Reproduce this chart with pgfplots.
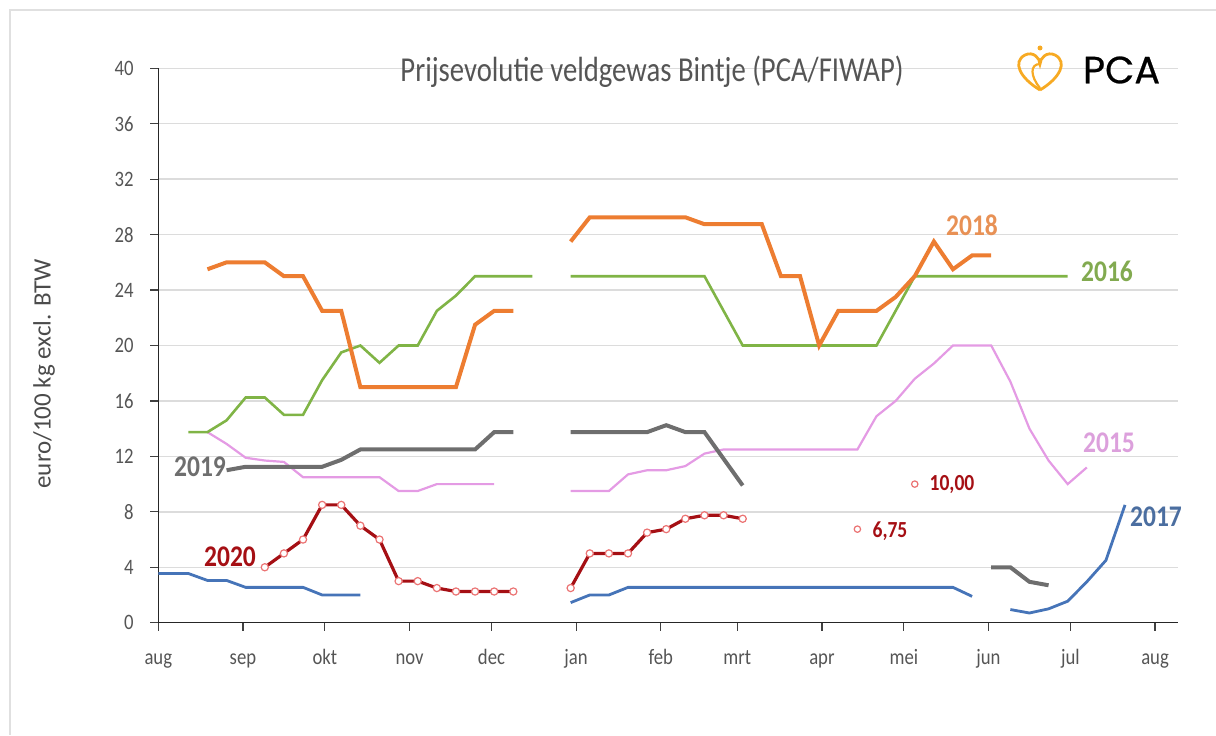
\documentclass[border=0pt]{standalone}
\usepackage{fontspec}
\setmainfont{Carlito}
\newfontfamily\condfont{Carlito}[FakeStretch=0.85]
\newfontfamily\titlefont{Carlito}[FakeStretch=0.82]
\newfontfamily\logofont{Poppins}[FakeBold=0.6]
\usepackage{pgfplots}
\pgfplotsset{compat=1.18}

\definecolor{c2015}{RGB}{228,155,228}
\definecolor{c2016}{RGB}{128,180,70}
\definecolor{c2017}{RGB}{70,116,184}
\definecolor{c2018}{RGB}{237,125,49}
\definecolor{c2019}{RGB}{110,110,110}
\definecolor{c2020}{RGB}{165,15,20}
\definecolor{mk2020}{RGB}{235,115,115}
\definecolor{l2015}{RGB}{220,160,220}
\definecolor{l2016}{RGB}{130,170,80}
\definecolor{l2017}{RGB}{75,110,160}
\definecolor{l2018}{RGB}{232,145,85}
\definecolor{gridgray}{RGB}{220,220,220}
\definecolor{ticktext}{RGB}{85,85,85}
\definecolor{logoorange}{RGB}{247,170,35}

\begin{document}
\begin{tikzpicture}
\useasboundingbox (0,0) rectangle (608pt,367.5pt);

\begin{axis}[
  at={(79.15pt,56.15pt)}, anchor=south west,
  width=509.85pt, height=277.2pt, scale only axis,
  xmin=0, xmax=373.4, ymin=0, ymax=40,
  axis x line*=bottom, axis y line*=left,
  axis line style={-, draw=black!85, line width=0.7pt},
  xtick={0,31,61,92,122,153,184,212,243,273,304,334,365},
  xticklabels={aug,sep,okt,nov,dec,jan,feb,mrt,apr,mei,jun,jul,aug},
  ytick={0,4,...,40},
  tick align=outside, major tick length=4pt,
  tick style={draw=black!75, line width=0.6pt},
  ymajorgrids, grid style={draw=gridgray, line width=0.7pt},
  ticklabel style={font=\condfont\fontsize{11}{12}\selectfont, text=ticktext},
  /pgf/number format/assume math mode=true,
  xticklabel style={anchor=base, yshift=-17pt},
  yticklabel style={xshift=-4.8pt},
  unbounded coords=jump,
]
% 2015
\addplot[c2015, line width=1.1pt] coordinates {
 (18,13.75)(25,12.9)(32,11.9)(39,11.7)(46,11.6)(53,10.5)(60,10.5)(67,10.5)(74,10.5)(81,10.5)
 (88,9.5)(95,9.5)(102,10)(109,10)(116,10)(123,10)
 (140,nan)
 (151,9.5)(158,9.5)(165,9.5)(172,10.7)(179,11)(186,11)(193,11.3)(200,12.2)(207,12.5)(214,12.5)
 (221,12.5)(228,12.5)(235,12.5)(242,12.5)(249,12.5)(256,12.5)(263,14.9)(270,16)(277,17.6)(284,18.7)
 (291,20)(298,20)(305,20)(312,17.4)(319,14)(326,11.7)(333,10)(340,11.2)
};
% 2016
\addplot[c2016, line width=1.3pt] coordinates {
 (11,13.75)(18,13.75)(25,14.6)(32,16.25)(39,16.25)(46,15)(53,15)(60,17.5)(67,19.5)(74,20)
 (81,18.75)(88,20)(95,20)(102,22.5)(109,23.6)(116,25)(123,25)(130,25)(137,25)
 (144,nan)
 (151,25)(158,25)(165,25)(172,25)(179,25)(186,25)(193,25)(200,25)(207,22.5)(214,20)
 (221,20)(228,20)(235,20)(242,20)(249,20)(256,20)(263,20)(270,22.5)(277,25)(284,25)
 (291,25)(298,25)(305,25)(312,25)(319,25)(326,25)(333,25)
};
% 2017
\addplot[c2017, line width=1.4pt] coordinates {
 (0,3.55)(11,3.55)(18,3.05)(25,3.05)(32,2.55)(39,2.55)(46,2.55)(53,2.55)(60,2)(67,2)(74,2)
 (140,nan)
 (151,1.45)(158,2)(165,2)(172,2.55)(179,2.55)(186,2.55)(193,2.55)(200,2.55)(207,2.55)(214,2.55)
 (221,2.55)(228,2.55)(235,2.55)(242,2.55)(249,2.55)(256,2.55)(263,2.55)(270,2.55)(277,2.55)
 (284,2.55)(291,2.55)(298,1.9)
 (305,nan)
 (312,0.95)(319,0.7)(326,1)(333,1.55)(340,2.95)(347,4.5)(354,8.5)
};
% 2018
\addplot[c2018, line width=2pt] coordinates {
 (18,25.5)(25,26)(32,26)(39,26)(46,25)(53,25)(60,22.5)(67,22.5)(74,17)(81,17)(88,17)(95,17)
 (102,17)(109,17)(116,21.5)(123,22.5)(130,22.5)
 (140,nan)
 (151,27.5)(158,29.25)(165,29.25)(172,29.25)(179,29.25)(186,29.25)(193,29.25)(200,28.75)
 (207,28.75)(214,28.75)(221,28.75)(228,25)(235,25)(242,20)(249,22.5)(256,22.5)(263,22.5)
 (270,23.5)(277,25)(284,27.5)(291,25.5)(298,26.5)(305,26.5)
};
% 2019
\addplot[c2019, line width=2pt] coordinates {
 (25,11)(32,11.25)(39,11.25)(46,11.25)(53,11.25)(60,11.25)(67,11.75)(74,12.5)(81,12.5)(88,12.5)
 (95,12.5)(102,12.5)(109,12.5)(116,12.5)(123,13.75)(130,13.75)
 (140,nan)
 (151,13.75)(158,13.75)(165,13.75)(172,13.75)(179,13.75)(186,14.25)(193,13.75)(200,13.75)(214,9.9)
 (260,nan)
 (305,4)(312,4)(319,2.95)(326,2.7)
};
% 2020
\addplot[c2020, line width=1.6pt, mark=*, mark size=1.8pt,
  mark options={fill=white, draw=mk2020, line width=0.6pt}] coordinates {
 (39,4)(46,5)(53,6)(60,8.5)(67,8.5)(74,7)(81,6)(88,3)(95,3)(102,2.5)(109,2.25)(116,2.25)
 (123,2.25)(130,2.25)
 (140,nan)
 (151,2.5)(158,5)(165,5)(172,5)(179,6.5)(186,6.75)(193,7.5)(200,7.75)(207,7.75)(214,7.5)
};
% losse noteringen
\addplot[only marks, mark=*, mark size=1.6pt,
  mark options={fill=white, draw=mk2020, line width=0.6pt}] coordinates {
 (256,6.75)(277,10)
};
\end{axis}

\begin{scope}[x=0.5pt,y=-0.5pt,shift={(0pt,367.5pt)}]
  % frame
  \draw[black!12, line width=0.8pt] (10,735) -- (10,10) -- (1216,10);
  % title
  \node[text={rgb,255:red,85;green,85;blue,85}, font=\titlefont\fontsize{17.5}{19}\selectfont]
    at (652,72) {Prijsevolutie veldgewas Bintje (PCA/FIWAP)};
  % logo
  \draw[logoorange, line width=1.4pt] (1040,90) .. controls (1020,78) and (1012,62) .. (1025,55)
     .. controls (1033,51) and (1040,58) .. (1040,64)
     .. controls (1040,58) and (1047,51) .. (1055,55)
     .. controls (1068,62) and (1060,78) .. (1040,90);
  \draw[logoorange, line width=1.1pt] (1040,88) .. controls (1030,76) and (1030,64) .. (1040,64);
  \fill[logoorange] (1040,48) circle (2.5);
  \node[anchor=west, font=\logofont\fontsize{19}{21}\selectfont] at (1076,70) {PCA};
  % y label
  \node[rotate=90, text={rgb,255:red,75;green,75;blue,75}, font=\fontsize{12.5}{14}\selectfont]
    at (44,374) {euro/100 kg excl. BTW};
  % series labels
  \node[text=l2018, font=\condfont\bfseries\fontsize{15}{16}\selectfont] at (972,225) {2018};
  \node[text=l2016, font=\condfont\bfseries\fontsize{15}{16}\selectfont] at (1107,271) {2016};
  \node[text=l2015, font=\condfont\bfseries\fontsize{15}{16}\selectfont] at (1109,443) {2015};
  \node[text=l2017, font=\condfont\bfseries\fontsize{15}{16}\selectfont] at (1156,517) {2017};
  \node[text=c2019, font=\condfont\bfseries\fontsize{15}{16}\selectfont] at (200,467) {2019};
  \node[text=c2020, font=\condfont\bfseries\fontsize{15}{16}\selectfont] at (230,557) {2020};
  \node[text=c2020, font=\condfont\bfseries\fontsize{11.5}{13}\selectfont] at (952,485) {10,00};
  \node[text=c2020, font=\condfont\bfseries\fontsize{11.5}{13}\selectfont] at (890,531) {6,75};
\end{scope}
\end{tikzpicture}
\end{document}
